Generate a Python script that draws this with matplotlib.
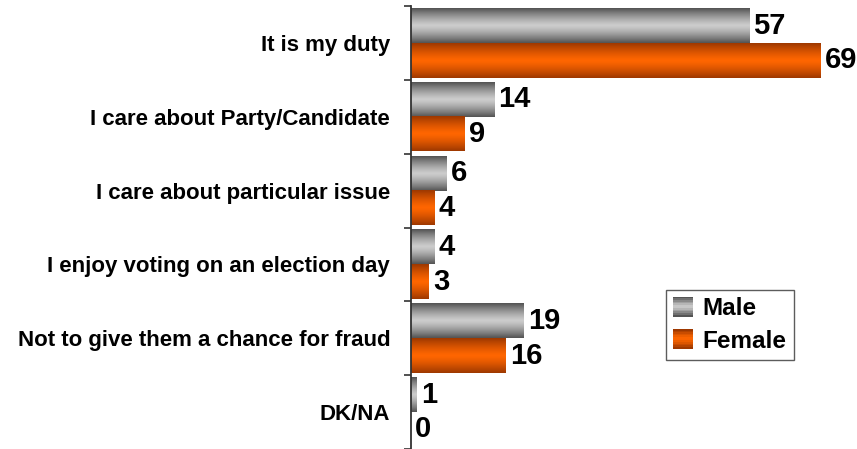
import numpy as np
import matplotlib
matplotlib.use("Agg")
import matplotlib.pyplot as plt
from matplotlib.patches import Rectangle
from matplotlib.legend_handler import HandlerPatch

# data
categories = ["It is my duty", "I care about Party/Candidate", "I care about particular issue",
              "I enjoy voting on an election day", "Not to give them a chance for fraud", "DK/NA"]
male = [57, 14, 6, 4, 19, 1]
female = [69, 9, 4, 3, 16, 0]
series_names = ["Male", "Female"]

# gradient colours: edge -> middle
gray_edge, gray_mid = np.array([0.33, 0.33, 0.33]), np.array([0.80, 0.80, 0.80])
orange_edge, orange_mid = np.array([0.62, 0.22, 0.0]), np.array([1.0, 0.40, 0.0])


def gradient(edge, mid, n=64):
    t = np.abs(np.linspace(-1, 1, n)) ** 1.3
    cols = mid[None, :] * (1 - t[:, None]) + edge[None, :] * t[:, None]
    return cols.reshape(n, 1, 3)


class GradientHandler(HandlerPatch):
    def __init__(self, edge, mid):
        super().__init__()
        self.edge, self.mid = edge, mid

    def create_artists(self, legend, orig_handle, xdescent, ydescent, width, height, fontsize, trans):
        side = height * 1.15
        x0 = -xdescent + (width - side) / 2
        y0 = -ydescent + (height - side) / 2
        n = 12
        cols = gradient(self.edge, self.mid, n)[:, 0, :]
        arts = []
        for i in range(n):
            r = Rectangle((x0, y0 + side * (n - 1 - i) / n), side, side / n + 0.2,
                          facecolor=cols[i], edgecolor="none", transform=trans)
            arts.append(r)
        return arts


plt.rcParams["font.family"] = ["Liberation Sans", "DejaVu Sans"]
plt.rcParams["font.weight"] = "bold"

fig = plt.figure(figsize=(8.57, 4.49), dpi=100)
ax = fig.add_axes([411 / 857, 0.0, 446 / 857, 443 / 449])

y = np.arange(len(categories))
h = 0.47
bars_m = ax.barh(y - h / 2, male, height=h, color="none")
bars_f = ax.barh(y + h / 2, female, height=h, color="none")

for bars, edge, mid in [(bars_m, gray_edge, gray_mid), (bars_f, orange_edge, orange_mid)]:
    img = gradient(edge, mid)
    for b in bars:
        x0, y0 = b.get_x(), b.get_y()
        w, hh = b.get_width(), b.get_height()
        if w <= 0:
            continue
        ax.imshow(img, extent=(x0, x0 + w, y0 + hh, y0), aspect="auto", zorder=2, interpolation="bilinear")
    for b in bars:
        ax.text(b.get_width() + 0.7, b.get_y() + b.get_height() / 2, f"{b.get_width():g}",
                va="center", ha="left", fontsize=21, fontweight="bold", zorder=3)

ax.set_xlim(0, 75.2)
ax.set_ylim(5.5, -0.5)

ax.set_yticks(y)
ax.set_yticklabels(categories, fontsize=16, fontweight="bold")
ax.tick_params(axis="y", which="major", length=0, pad=15)
ax.set_yticks(np.arange(-0.5, len(categories), 1.0), minor=True)
ax.tick_params(axis="y", which="minor", length=5, width=1.2, color="#333333")
ax.set_xticks([])

for s in ["top", "right", "bottom"]:
    ax.spines[s].set_visible(False)
ax.spines["left"].set_color("#333333")
ax.spines["left"].set_linewidth(1.3)

h_m = Rectangle((0, 0), 1, 1)
h_f = Rectangle((0, 0), 1, 1)
leg = ax.legend([h_m, h_f], series_names, loc="upper left", bbox_to_anchor=((666 - 411) / 446, 1 - (290 - 6) / 443),
                prop={"size": 17.5, "weight": "bold"}, frameon=True, fancybox=False,
                handler_map={h_m: GradientHandler(gray_edge, gray_mid),
                             h_f: GradientHandler(orange_edge, orange_mid)},
                handlelength=0.8, handletextpad=0.4, borderpad=0.3, labelspacing=0.38, borderaxespad=0)
leg.get_frame().set_edgecolor("#333333")
leg.get_frame().set_linewidth(1.0)

fig.savefig("out.png", dpi=100)
